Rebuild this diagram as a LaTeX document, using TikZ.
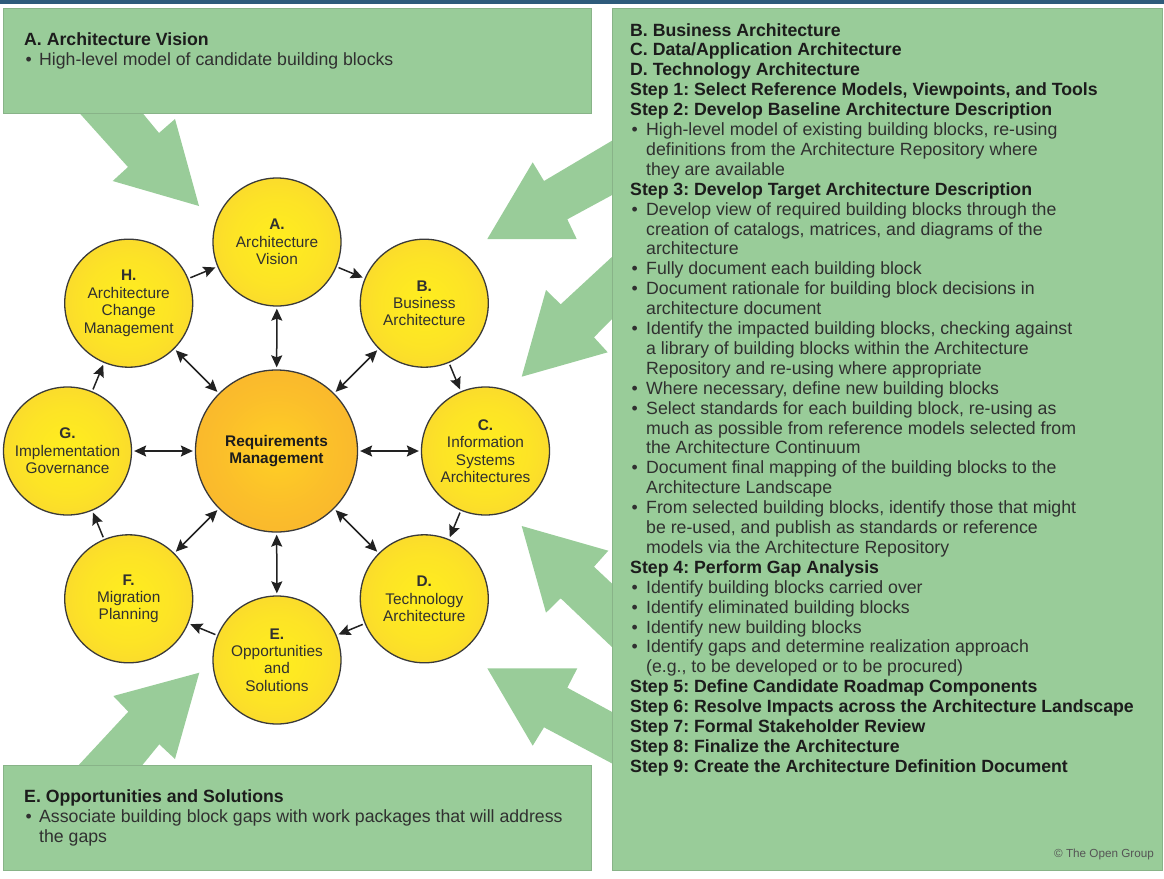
\documentclass[tikz,border=0pt]{standalone}
\usepackage{fontspec}
\setmainfont{Liberation Sans}
\usetikzlibrary{arrows.meta}
\frenchspacing
\definecolor{boxgreen}{HTML}{99CC99}
\definecolor{boxline}{HTML}{88B388}
\definecolor{topbar}{HTML}{2E5B7B}
\definecolor{ballin}{HTML}{FFEE1E}
\definecolor{ballout}{HTML}{F5C23F}
\definecolor{corein}{HTML}{FFD024}
\definecolor{coreout}{HTML}{F6A833}
\definecolor{txt}{HTML}{303030}
\definecolor{ttl}{HTML}{1C1C1C}
\definecolor{ringc}{HTML}{3A3A3A}
\definecolor{arrowc}{HTML}{222222}
\definecolor{copyc}{HTML}{555555}
\pgfdeclareradialshading{ballshade}{\pgfpoint{0bp}{0bp}}{color(0bp)=(ballin); color(18bp)=(ballin!75!ballout); color(50bp)=(ballout)}
\pgfdeclareradialshading{coreshade}{\pgfpoint{0bp}{0bp}}{color(0bp)=(corein); color(18bp)=(corein!55!coreout); color(50bp)=(coreout)}
\newcommand{\rhead}[1]{\textbf{\color{ttl}#1}}
\newcommand{\rbul}[1]{\makebox[16pt][l]{\hspace{1.5pt}\textbullet}#1}
\newcommand{\rcont}[1]{\hspace*{16pt}#1}
\newcommand{\lbul}[1]{\makebox[15pt][l]{\hspace{1.5pt}\textbullet}#1}
\newcommand{\lcont}[1]{\hspace*{15pt}#1}
\tikzset{
  gbox/.style={rectangle, fill=boxgreen, draw=boxline, line width=0.8pt, inner sep=0pt, anchor=north west},
  garrow/.style={fill=boxgreen},
  bodytext/.style={anchor=base west, inner sep=0pt, text=txt, font=\fontsize{17.7}{19.9}\selectfont},
  titletext/.style={bodytext, text=ttl, font=\fontsize{17.7}{19.9}\selectfont\bfseries},
  phase/.style={circle, shade, shading=ballshade, draw=ringc, line width=1.3pt, minimum size=128pt, inner sep=0pt, align=center, text=txt, font=\fontsize{15.4}{17.4}\selectfont},
  core/.style={phase, shading=coreshade, minimum size=162pt, text=ttl},
  tipA/.tip={Stealth[length=12pt,width=11pt,inset=2pt]},
  cyc/.style={-tipA, line width=1.5pt, draw=arrowc, shorten >=2pt, shorten <=2pt},
  spoke/.style={tipA-tipA, line width=1.5pt, draw=arrowc, shorten >=2pt, shorten <=2pt},
}
\begin{document}
\begin{tikzpicture}[x=1pt,y=-1pt]
\useasboundingbox (0,0) rectangle (1164,878);
\fill[topbar] (0,0) rectangle (1164,4);
% big green arrows
\fill[garrow] (76.7,110) -- (128,167) -- (112.7,181) -- (199,206) -- (175,119) -- (159,133) -- (140,110) -- cycle;
\fill[garrow] (614,139.5) -- (544,181) -- (532.7,162.3) -- (487.3,239) -- (576.7,239) -- (567.3,219.3) -- (614,194) -- cycle;
\fill[garrow] (614,255) -- (560.7,304.3) -- (546,290) -- (521.7,376.7) -- (607.7,352.3) -- (594,337.3) -- (614,317) -- cycle;
\fill[garrow] (614,585.5) -- (594,566.7) -- (608.3,550.7) -- (521.7,526) -- (546,612.7) -- (560.7,598.3) -- (614,649) -- cycle;
\fill[garrow] (614,713) -- (567.3,687.7) -- (577.3,668.3) -- (487.3,668.3) -- (532.7,745.7) -- (544,727.3) -- (614,764.5) -- cycle;
\fill[garrow] (76,768) -- (128.3,711.7) -- (113.3,696) -- (199.3,672.7) -- (175,759) -- (159.3,744.3) -- (140,768) -- cycle;
% boxes
\node[gbox, minimum width=588pt, minimum height=105.5pt] (boxA) at (3,7.5) {};
\node[gbox, minimum width=549.8pt, minimum height=862.5pt] (boxR) at (611.7,7.5) {};
\node[gbox, minimum width=588pt, minimum height=105pt] (boxE) at (3,765) {};
% left box texts
\node[titletext] (tA0) at (24,45) {A. Architecture Vision};
\node[bodytext] (tA1) at (24,65) {\lbul{High-level model of candidate building blocks}};
\node[titletext] (tE0) at (24,802) {E. Opportunities and Solutions};
\node[bodytext] (tE1) at (24,822) {\lbul{Associate building block gaps with work packages that will address}};
\node[bodytext] (tE2) at (24,842) {\lcont{the gaps}};
% right box texts
\foreach \ln [count=\i] in {
 {\rhead{B. Business Architecture}},
 {\rhead{C. Data/Application Architecture}},
 {\rhead{D. Technology Architecture}},
 {\rhead{Step 1: Select Reference Models, Viewpoints, and Tools}},
 {\rhead{Step 2: Develop Baseline Architecture Description}},
 {\rbul{High-level model of existing building blocks, re-using}},
 {\rcont{definitions from the Architecture Repository where}},
 {\rcont{they are available}},
 {\rhead{Step 3: Develop Target Architecture Description}},
 {\rbul{Develop view of required building blocks through the}},
 {\rcont{creation of catalogs, matrices, and diagrams of the}},
 {\rcont{architecture}},
 {\rbul{Fully document each building block}},
 {\rbul{Document rationale for building block decisions in}},
 {\rcont{architecture document}},
 {\rbul{Identify the impacted building blocks, checking against}},
 {\rcont{a library of building blocks within the Architecture}},
 {\rcont{Repository and re-using where appropriate}},
 {\rbul{Where necessary, define new building blocks}},
 {\rbul{Select standards for each building block, re-using as}},
 {\rcont{much as possible from reference models selected from}},
 {\rcont{the Architecture Continuum}},
 {\rbul{Document final mapping of the building blocks to the}},
 {\rcont{Architecture Landscape}},
 {\rbul{From selected building blocks, identify those that might}},
 {\rcont{be re-used, and publish as standards or reference}},
 {\rcont{models via the Architecture Repository}},
 {\rhead{Step 4: Perform Gap Analysis}},
 {\rbul{Identify building blocks carried over}},
 {\rbul{Identify eliminated building blocks}},
 {\rbul{Identify new building blocks}},
 {\rbul{Identify gaps and determine realization approach}},
 {\rcont{(e.g., to be developed or to be procured)}},
 {\rhead{Step 5: Define Candidate Roadmap Components}},
 {\rhead{Step 6: Resolve Impacts across the Architecture Landscape}},
 {\rhead{Step 7: Formal Stakeholder Review}},
 {\rhead{Step 8: Finalize the Architecture}},
 {\rhead{Step 9: Create the Architecture Definition Document}}
} \node[bodytext] (r\i) at (630,{36+19.9*(\i-1)}) {\ln};
\node[anchor=base east, inner sep=0pt, text=copyc, font=\fontsize{11.7}{13}\selectfont] (copy) at (1154,857) {\textcopyright{} The Open Group};
% circles
\node[core] (rm) at (276.5,451) {\textbf{Requirements}\\\textbf{Management}};
\node[phase] (pa) at (277,242) {\textbf{A.}\\Architecture\\Vision};
\node[phase] (pb) at (424.3,303.2) {\textbf{B.}\\Business\\Architecture};
\node[phase] (pc) at (485.5,451) {\textbf{C.}\\Information\\Systems\\Architectures};
\node[phase] (pd) at (424.3,598.8) {\textbf{D.}\\Technology\\Architecture};
\node[phase] (pe) at (277,660) {\textbf{E.}\\Opportunities\\and\\Solutions};
\node[phase] (pf) at (128.7,598.8) {\textbf{F.}\\Migration\\Planning};
\node[phase] (pg) at (67.5,451) {\textbf{G.}\\Implementation\\Governance};
\node[phase] (ph) at (128.7,303.2) {\textbf{H.}\\Architecture\\Change\\Management};
% cycle arrows
\draw[cyc] (pa) -- (pb);
\draw[cyc] (pb) -- (pc);
\draw[cyc] (pc) -- (pd);
\draw[cyc] (pd) -- (pe);
\draw[cyc] (pe) -- (pf);
\draw[cyc] (pf) -- (pg);
\draw[cyc] (pg) -- (ph);
\draw[cyc] (ph) -- (pa);
% spokes
\foreach \p in {pa,pb,pc,pd,pe,pf,pg,ph} \draw[spoke] (rm) -- (\p);
\end{tikzpicture}
\end{document}
